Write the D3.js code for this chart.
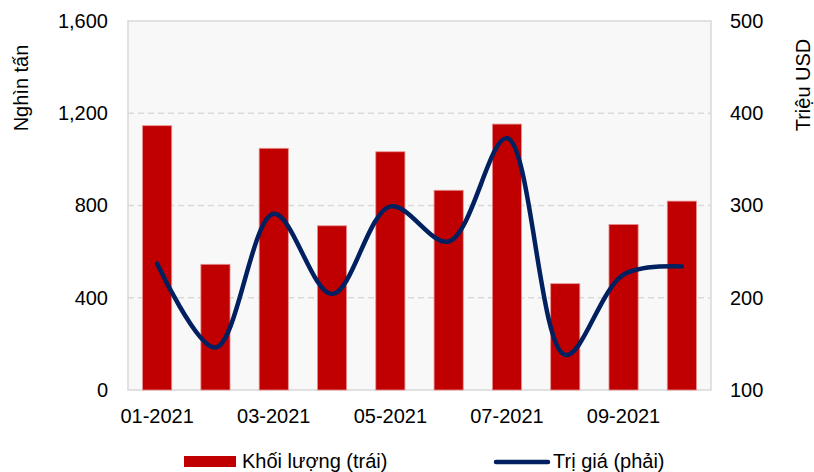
<!DOCTYPE html>
<html>
<head>
<meta charset="utf-8">
<script src="https://cdn.jsdelivr.net/npm/d3@7"></script>
<style>
  body { margin: 0; background: #fff; }
  text { font-family: "Liberation Sans", Arial, sans-serif; fill: #000; }
</style>
</head>
<body>
<svg width="814" height="472"></svg>
<script>
let months = ["01-2021", "02-2021", "03-2021", "04-2021", "05-2021", "06-2021", "07-2021", "08-2021", "09-2021", "10-2021"];
let volume = [1146, 545, 1048, 712, 1033, 866, 1153, 461, 718, 819];
let value = [237, 146, 291, 204, 299, 261, 373, 138, 225, 234];
let leftTicks = [0, 400, 800, 1200, 1600];
let rightTicks = [100, 200, 300, 400, 500];

let plotLeft = 128, plotRight = 711, plotTop = 21, plotBottom = 390;
let fontSize = 20;

let svg = d3.select("svg");

// Scales
let xScale = d3.scaleBand()
    .domain(months)
    .range([plotLeft, plotRight])
    .paddingInner(0.5)
    .paddingOuter(0.25);

let yLeft = d3.scaleLinear().domain([0, 1600]).range([plotBottom, plotTop]);
let yRight = d3.scaleLinear().domain([100, 500]).range([plotBottom, plotTop]);

// Plot background
svg.append("rect")
    .attr("x", plotLeft)
    .attr("y", plotTop)
    .attr("width", plotRight - plotLeft)
    .attr("height", plotBottom - plotTop)
    .attr("fill", "#f8f8f8")
    .attr("stroke", "#d9d9d9")
    .attr("stroke-width", 1.5);

// Gridlines
svg.append("g")
    .selectAll("line")
    .data(leftTicks.slice(1, -1))
    .enter()
    .append("line")
    .attr("x1", plotLeft)
    .attr("x2", plotRight)
    .attr("y1", d => yLeft(d))
    .attr("y2", d => yLeft(d))
    .attr("stroke", "#d9d9d9")
    .attr("stroke-width", 1.3)
    .attr("stroke-dasharray", "6,4");

// Left axis
let leftAxis = d3.axisLeft(yLeft)
    .tickValues(leftTicks)
    .tickFormat(d3.format(","))
    .tickSize(0)
    .tickPadding(20);

svg.append("g")
    .attr("transform", `translate(${plotLeft}, 0)`)
    .call(leftAxis)
    .call(g => g.select(".domain").remove())
    .selectAll("text")
    .attr("font-size", fontSize)
    .attr("font-family", "Liberation Sans, Arial, sans-serif");

// Right axis
let rightAxis = d3.axisRight(yRight)
    .tickValues(rightTicks)
    .tickSize(0)
    .tickPadding(19);

svg.append("g")
    .attr("transform", `translate(${plotRight}, 0)`)
    .call(rightAxis)
    .call(g => g.select(".domain").remove())
    .selectAll("text")
    .attr("font-size", fontSize)
    .attr("font-family", "Liberation Sans, Arial, sans-serif");

// Bottom axis (every other label)
let xAxis = d3.axisBottom(xScale)
    .tickValues(months.filter((d, i) => i % 2 === 0))
    .tickSize(0)
    .tickPadding(19);

svg.append("g")
    .attr("transform", `translate(0, ${plotBottom})`)
    .call(xAxis)
    .call(g => g.select(".domain").remove())
    .selectAll("text")
    .attr("font-size", fontSize)
    .attr("font-family", "Liberation Sans, Arial, sans-serif");

// Bars
svg.append("g")
    .selectAll("rect")
    .data(volume)
    .enter()
    .append("rect")
    .attr("x", (d, i) => xScale(months[i]))
    .attr("y", d => yLeft(d))
    .attr("width", xScale.bandwidth())
    .attr("height", d => yLeft(0) - yLeft(d))
    .attr("fill", "#c00000")
    .attr("stroke", "#e89090")
    .attr("stroke-width", 0.8);

// Smoothed line
let line = d3.line()
    .x((d, i) => xScale(months[i]) + xScale.bandwidth() / 2)
    .y(d => yRight(d))
    .curve(d3.curveCatmullRom.alpha(0.5));

svg.append("path")
    .datum(value)
    .attr("d", line)
    .attr("fill", "none")
    .attr("stroke", "#002060")
    .attr("stroke-width", 4.5)
    .attr("stroke-linecap", "round");

// Axis titles
svg.append("text")
    .attr("transform", "translate(28, 88) rotate(-90)")
    .attr("text-anchor", "middle")
    .attr("font-size", fontSize)
    .text("Nghìn tấn");

svg.append("text")
    .attr("transform", "translate(810, 85) rotate(-90)")
    .attr("text-anchor", "middle")
    .attr("font-size", fontSize)
    .text("Triệu USD");

// Legend
let legend = svg.append("g");
legend.append("rect")
    .attr("x", 184)
    .attr("y", 456)
    .attr("width", 52)
    .attr("height", 11)
    .attr("fill", "#c00000");
legend.append("text")
    .attr("x", 242)
    .attr("y", 468)
    .attr("font-size", fontSize)
    .text("Khối lượng (trái)");
legend.append("line")
    .attr("x1", 496)
    .attr("x2", 548)
    .attr("y1", 462)
    .attr("y2", 462)
    .attr("stroke", "#002060")
    .attr("stroke-width", 4.5)
    .attr("stroke-linecap", "round");
legend.append("text")
    .attr("x", 553)
    .attr("y", 468)
    .attr("font-size", fontSize)
    .text("Trị giá (phải)");
</script>
</body>
</html>
